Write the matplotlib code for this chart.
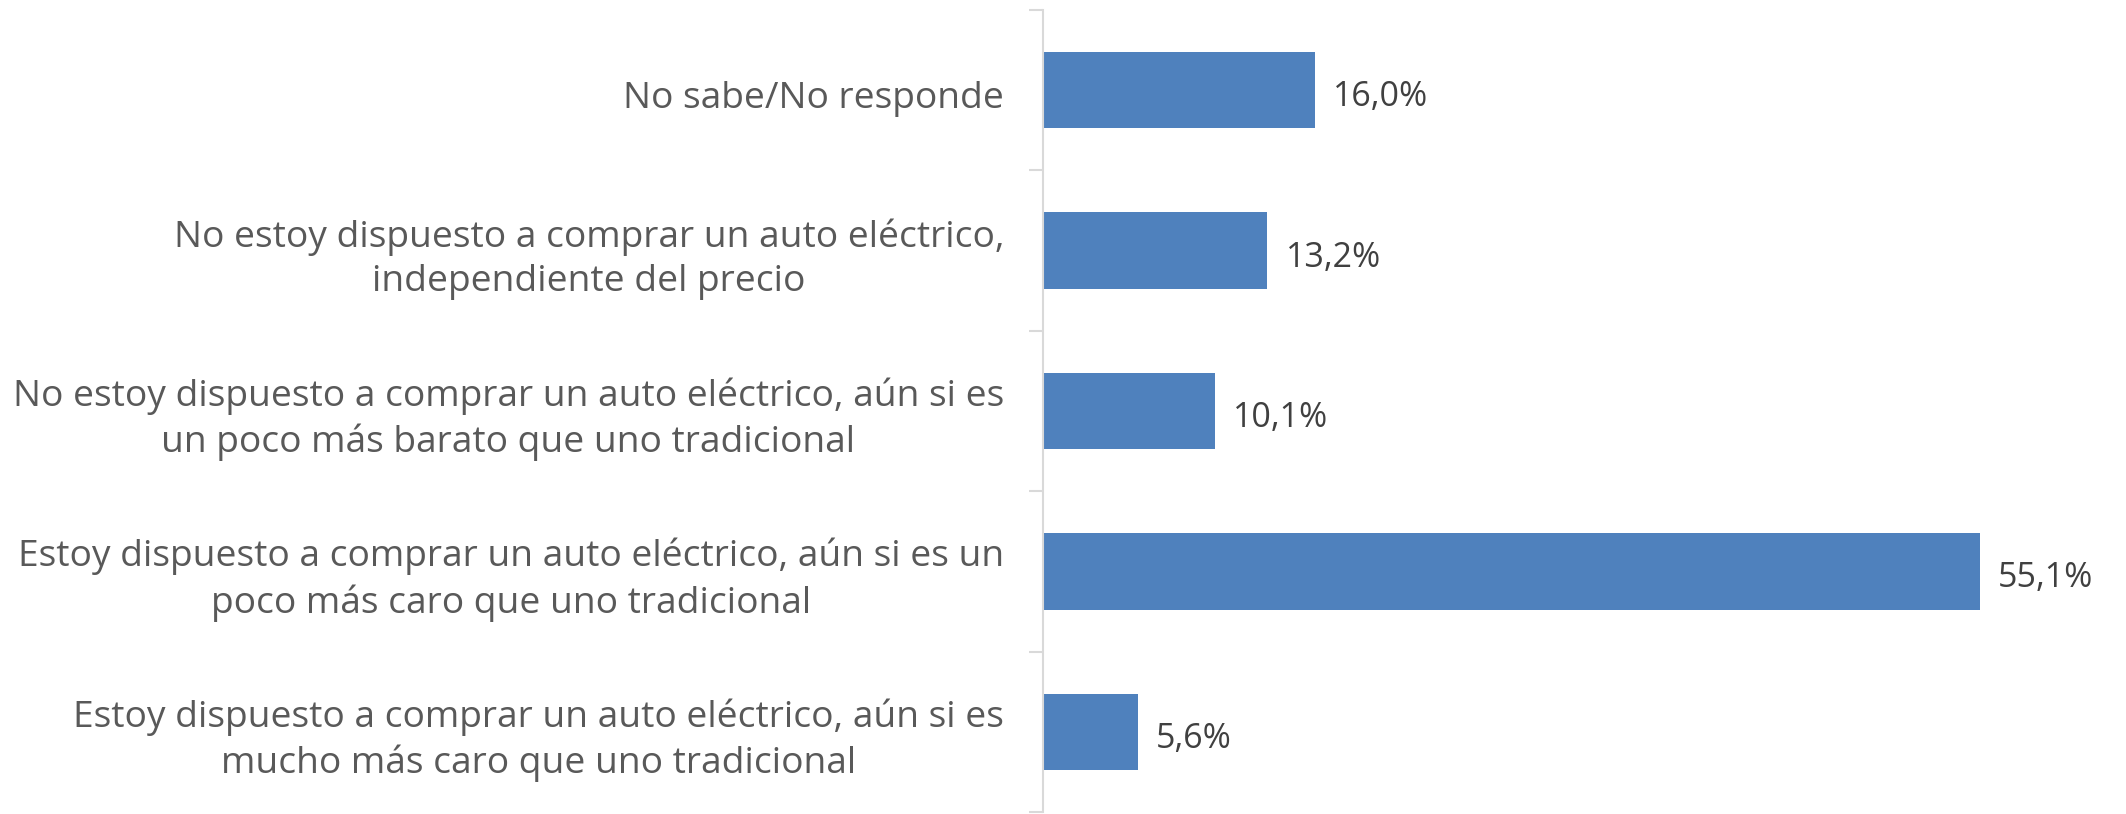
import matplotlib.pyplot as plt

# Data (top to bottom as shown in the chart)
categories = [
    "No sabe/No responde",
    "No estoy dispuesto a comprar un auto eléctrico,\nindependiente del precio",
    "No estoy dispuesto a comprar un auto eléctrico, aún si es\nun poco más barato que uno tradicional",
    "Estoy dispuesto a comprar un auto eléctrico, aún si es un\npoco más caro que uno tradicional",
    "Estoy dispuesto a comprar un auto eléctrico, aún si es\nmucho más caro que uno tradicional",
]
values = [16.0, 13.2, 10.1, 55.1, 5.6]
value_labels = ["16,0%", "13,2%", "10,1%", "55,1%", "5,6%"]

plt.rcParams['font.family'] = ['Open Sans', 'DejaVu Sans']

fig = plt.figure(figsize=(21.26, 8.14), dpi=100)
ax = fig.add_axes([1043 / 2126, 2 / 814, 1020 / 2126, 802 / 814])

pos = list(range(len(categories)))
ax.barh(pos, values, height=1 / 2.1, color='#4F81BD')
ax.set_ylim(len(categories) - 0.5, -0.5)
ax.set_xlim(0, 60)

# value labels
for p, v, lab in zip(pos, values, value_labels):
    ax.annotate(lab, (v, p), xytext=(13, -5), textcoords='offset points',
                va='center', ha='left', fontsize=24.5, color='#404040')

# category labels (drawn as text so they can sit a bit low, like Excel)
for p, cat in zip(pos, categories):
    ax.annotate(cat, (0, p), xycoords=('axes fraction', 'data'),
                xytext=(-28, -6), textcoords='offset points',
                ha='right', va='center', multialignment='center',
                fontsize=26.7, color='#595959', linespacing=1.3)

ax.set_yticks([i + 0.5 for i in range(-1, len(categories))])
ax.set_yticklabels([])
ax.tick_params(axis='y', length=10, width=1.5, color='#D9D9D9')
ax.set_xticks([])

for s in ['top', 'right', 'bottom']:
    ax.spines[s].set_visible(False)
ax.spines['left'].set_color('#D9D9D9')
ax.spines['left'].set_linewidth(1.5)

fig.savefig('out.png', dpi=100)
